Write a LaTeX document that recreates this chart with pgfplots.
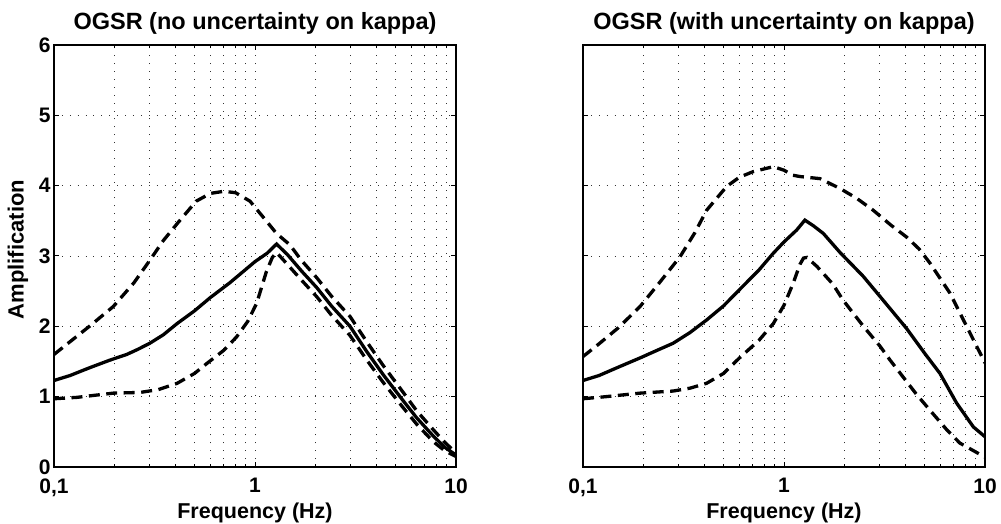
\documentclass[border=0pt]{standalone}
\usepackage{fontspec}
\setmainfont{Liberation Sans}
\usepackage{pgfplots}
\usepackage{pgfplotstable}
\pgfplotsset{compat=1.18}

\pgfplotstableread{
f a
0.10 1.23
0.12 1.30
0.15 1.41
0.19 1.52
0.23 1.60
0.26 1.67
0.30 1.76
0.35 1.88
0.41 2.04
0.50 2.22
0.60 2.41
0.75 2.62
0.90 2.81
1.00 2.92
1.15 3.04
1.28 3.17
1.45 3.02
1.70 2.79
2.03 2.55
2.40 2.29
2.97 2.00
3.60 1.64
4.35 1.31
5.40 0.96
6.37 0.70
7.71 0.44
8.80 0.28
10.0 0.17
}\leftsolid

\pgfplotstableread{
f a
0.10 1.60
0.12 1.78
0.15 2.00
0.197 2.28
0.25 2.62
0.30 2.94
0.35 3.22
0.41 3.46
0.51 3.78
0.60 3.89
0.70 3.92
0.80 3.90
0.944 3.78
1.10 3.55
1.28 3.32
1.49 3.16
1.70 2.94
2.03 2.69
2.40 2.43
2.97 2.14
3.60 1.78
4.35 1.44
5.40 1.08
6.37 0.80
7.71 0.53
8.80 0.35
10.0 0.20
}\leftupper

\pgfplotstableread{
f a
0.10 0.97
0.13 0.99
0.197 1.05
0.268 1.06
0.33 1.10
0.41 1.19
0.50 1.33
0.575 1.47
0.70 1.66
0.81 1.85
0.92 2.07
1.02 2.33
1.14 2.78
1.22 2.98
1.28 3.05
1.45 2.88
1.70 2.66
2.03 2.42
2.40 2.16
2.97 1.87
3.60 1.52
4.35 1.20
5.40 0.86
6.37 0.61
7.71 0.36
8.80 0.23
10.0 0.15
}\leftlower

\pgfplotstableread{
f a
0.10 1.23
0.12 1.30
0.15 1.42
0.192 1.55
0.23 1.65
0.281 1.76
0.34 1.91
0.412 2.09
0.50 2.29
0.60 2.52
0.75 2.80
0.885 3.04
1.00 3.20
1.157 3.37
1.27 3.51
1.40 3.43
1.57 3.32
1.90 3.05
2.48 2.71
3.20 2.33
4.07 1.97
5.00 1.62
5.97 1.33
7.22 0.91
8.75 0.57
10.0 0.43
}\rightsolid

\pgfplotstableread{
f a
0.10 1.57
0.12 1.75
0.15 1.98
0.192 2.28
0.24 2.62
0.304 2.99
0.36 3.33
0.412 3.65
0.519 3.99
0.60 4.12
0.703 4.20
0.885 4.27
1.00 4.22
1.10 4.15
1.20 4.13
1.51 4.10
1.90 3.96
2.30 3.82
2.78 3.65
3.40 3.44
4.07 3.27
4.70 3.10
5.32 2.90
6.70 2.47
8.75 1.81
10.0 1.48
}\rightupper

\pgfplotstableread{
f a
0.10 0.97
0.13 1.00
0.192 1.05
0.281 1.08
0.34 1.12
0.412 1.19
0.50 1.33
0.60 1.55
0.75 1.80
0.885 2.04
1.00 2.30
1.11 2.61
1.20 2.88
1.25 2.97
1.30 2.98
1.46 2.85
1.75 2.60
1.97 2.37
2.50 1.99
3.00 1.72
3.37 1.52
4.57 1.03
5.50 0.76
6.45 0.53
7.50 0.34
10.0 0.14
}\rightlower

\tikzset{
  solidcurve/.style={black, line width=3.3pt},
  dashcurve/.style={black, line width=3.3pt, dash pattern=on 11pt off 6.5pt},
  gridstyle/.style={black!80, line width=0.9pt, dash pattern=on 0.9pt off 7pt},
}

\begin{document}
\begin{tikzpicture}
\useasboundingbox (-54pt,-57pt) rectangle (947pt,467pt);
\begin{axis}[
    at={(0pt,0pt)}, anchor=south west,
    scale only axis, width=402pt, height=422pt,
    xmode=log,
    xmin=0.1, xmax=10, ymin=0, ymax=6,
    xtick={0.1,1,10}, xticklabels={{0,1},1,10},
    minor xtick={0.2,0.3,0.4,0.5,0.6,0.7,0.8,0.9,2,3,4,5,6,7,8,9},
    ytick={0,1,2,3,4,5,6},
    tick align=inside,
    major tick length=5pt, minor tick length=3pt,
    grid=both,
    major grid style={gridstyle},
    minor grid style={gridstyle},
    axis line style={line width=1.8pt},
    every tick/.style={black, line width=1pt},
    /pgf/number format/assume math mode=true,
    tick label style={font=\fontsize{21}{25}\selectfont\bfseries},
    xticklabel style={yshift=-8pt},
    title style={font=\fontsize{23.5}{28}\selectfont\bfseries, at={(axis description cs:0.5,1.036)}, anchor=center},
    xlabel style={font=\fontsize{21.5}{26}\selectfont\bfseries, at={(axis description cs:0.5,-0.108)}, anchor=center},
    ylabel style={font=\fontsize{22}{26}\selectfont\bfseries, at={(axis description cs:-0.0896,0.515)}, anchor=center},
    xlabel={Frequency (Hz)},
    title={OGSR (no uncertainty on kappa)}, ylabel={Amplification}]
  \addplot[solidcurve] table[x=f,y=a] {\leftsolid};
  \addplot[dashcurve] table[x=f,y=a] {\leftupper};
  \addplot[dashcurve] table[x=f,y=a] {\leftlower};
\end{axis}
\begin{axis}[
    at={(529pt,0pt)}, anchor=south west,
    scale only axis, width=402pt, height=422pt,
    xmode=log,
    xmin=0.1, xmax=10, ymin=0, ymax=6,
    xtick={0.1,1,10}, xticklabels={{0,1},1,10},
    minor xtick={0.2,0.3,0.4,0.5,0.6,0.7,0.8,0.9,2,3,4,5,6,7,8,9},
    ytick={0,1,2,3,4,5,6}, yticklabels={},
    tick align=inside,
    major tick length=5pt, minor tick length=3pt,
    grid=both,
    major grid style={gridstyle},
    minor grid style={gridstyle},
    axis line style={line width=1.8pt},
    every tick/.style={black, line width=1pt},
    /pgf/number format/assume math mode=true,
    tick label style={font=\fontsize{21}{25}\selectfont\bfseries},
    xticklabel style={yshift=-8pt},
    title style={font=\fontsize{23.5}{28}\selectfont\bfseries, at={(axis description cs:0.5,1.036)}, anchor=center},
    xlabel style={font=\fontsize{21.5}{26}\selectfont\bfseries, at={(axis description cs:0.5,-0.108)}, anchor=center},
    xlabel={Frequency (Hz)},
    title={OGSR (with uncertainty on kappa)}]
  \addplot[solidcurve] table[x=f,y=a] {\rightsolid};
  \addplot[dashcurve] table[x=f,y=a] {\rightupper};
  \addplot[dashcurve] table[x=f,y=a] {\rightlower};
\end{axis}
\end{tikzpicture}
\end{document}
